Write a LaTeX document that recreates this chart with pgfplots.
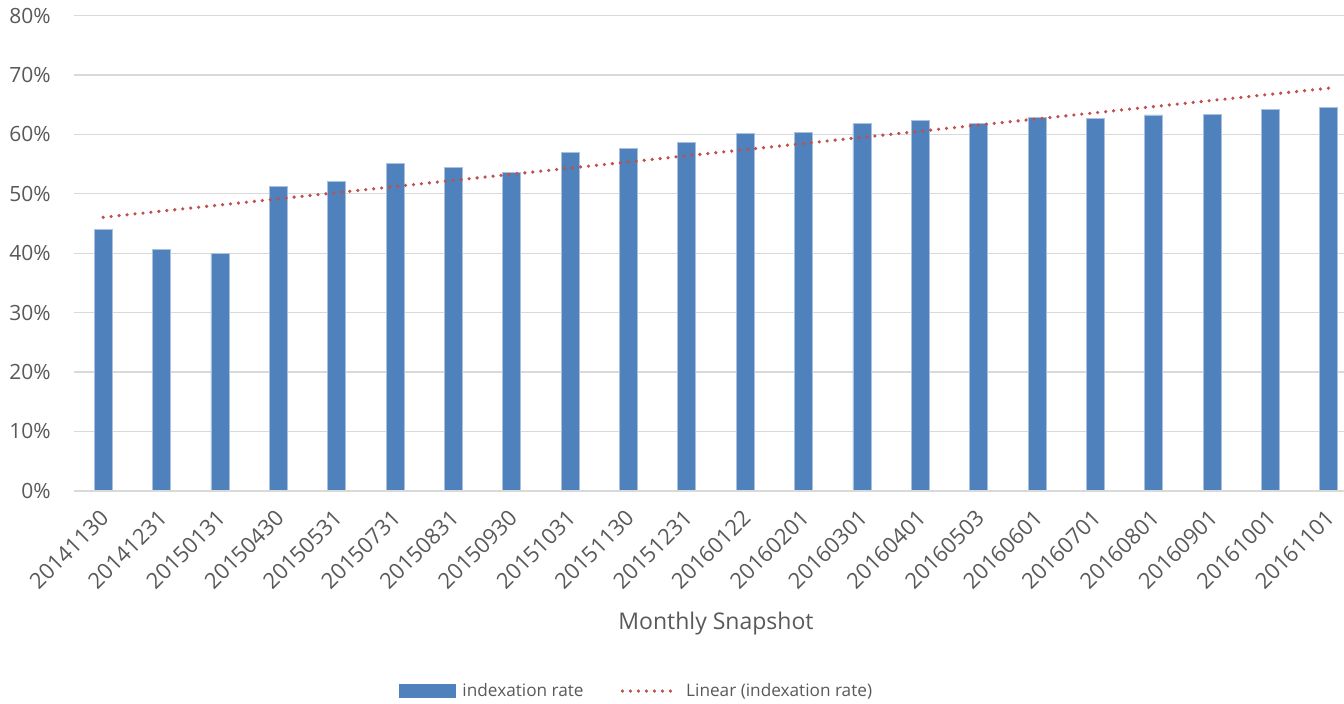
\documentclass[border=0pt]{standalone}
\usepackage{fontspec}
\setmainfont{Open Sans}
\usepackage{pgfplots}
\pgfplotsset{compat=1.18}
\definecolor{barblue}{HTML}{4F81BD}
\definecolor{baredge}{HTML}{A9C1DF}
\definecolor{trendred}{HTML}{C0504D}
\definecolor{gridgray}{HTML}{D9D9D9}
\definecolor{txtgray}{HTML}{595959}
\begin{document}
\begin{tikzpicture}
\begin{axis}[
  scale only axis,
  width=635pt, height=237.5pt,
  xmin=-0.5, xmax=21.26,
  ymin=0, ymax=80,
  axis line style={draw=none},
  axis x line*=bottom,
  ytick={0,10,...,80},
  yticklabels={0\%,10\%,20\%,30\%,40\%,50\%,60\%,70\%,80\%},
  xtick={0,...,21},
  xticklabels={20141130,20141231,20150131,20150430,20150531,20150731,20150831,20150930,20151031,20151130,20151231,20160122,20160201,20160301,20160401,20160503,20160601,20160701,20160801,20160901,20161001,20161101},
  major tick length=0pt,
  ymajorgrids,
  grid style={gridgray, line width=0.65pt},
  tick label style={text=txtgray},
  /pgf/number format/assume math mode=true,
  yticklabel style={font=\fontsize{10.5}{12}\selectfont, anchor=east, inner sep=0pt, xshift=-11.5pt},
  xticklabel style={font=\fontsize{11}{12}\selectfont, xshift=0.8pt, yshift=-11.5pt, rotate=45, anchor=east, inner sep=0pt},
  xlabel={Monthly Snapshot},
  xlabel style={at={(axis description cs:0.5055,0)}, anchor=base, yshift=-69.15pt, font=\fontsize{11.5}{13}\selectfont, text=txtgray, inner sep=0pt},
  legend columns=2,
  legend style={at={(0.4448,-0.4217)}, anchor=center, draw=none, fill=none,
    font=\fontsize{8.6}{10}\selectfont, text=txtgray,
    nodes={inner xsep=3.5pt},
    /tikz/every even column/.append style={column sep=15pt}},
  legend cell align=left,
  clip=false,
]
\addplot[ybar, bar width=9pt, fill=barblue, draw=baredge, line width=0.4pt,
  area legend,
  legend image code/.code={\fill[barblue] (0pt,-3.25pt) rectangle (28pt,3.25pt);}]
  coordinates {
  (0,44.0) (1,40.66) (2,39.98) (3,51.27) (4,52.1) (5,55.19) (6,54.46) (7,53.6)
  (8,57.0) (9,57.67) (10,58.68) (11,60.13) (12,60.36) (13,61.8) (14,62.3)
  (15,61.8) (16,62.9) (17,62.77) (18,63.28) (19,63.33) (20,64.17) (21,64.5)
  };
\addlegendentry{indexation rate}
\addplot[trendred, line width=1.8pt, line cap=round, dash pattern=on 0pt off 4pt,
  legend image code/.code={\draw[trendred, line width=1.8pt, line cap=round, dash pattern=on 0pt off 4pt] (0pt,0pt) -- (27.5pt,0pt);}]
  coordinates {(0,46.05) (21,67.8)};
\addlegendentry{Linear (indexation rate)}
\draw[gridgray, line width=0.8pt] (axis cs:-0.5,0) -- (axis cs:21.26,0);
\end{axis}
\pgfresetboundingbox
\useasboundingbox (-37pt,-106.15pt) rectangle (635pt,245.35pt);
\end{tikzpicture}
\end{document}
